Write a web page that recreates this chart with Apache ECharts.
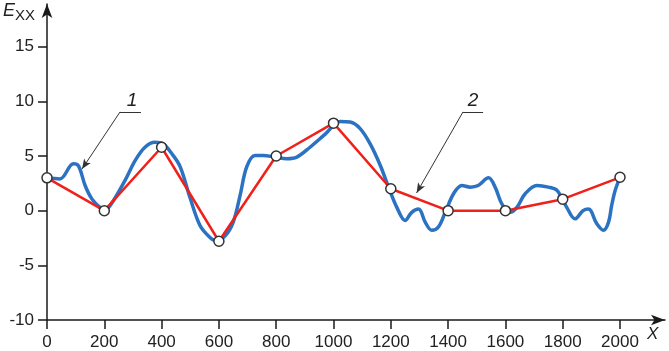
<!DOCTYPE html>
<html>
<head>
<meta charset="utf-8">
<script src="https://cdn.jsdelivr.net/npm/echarts@6/dist/echarts.min.js"></script>
<style>
  html, body { margin: 0; padding: 0; background: #fff; }
  #chart { width: 669px; height: 351px; }
</style>
</head>
<body>
<div id="chart"></div>
<script>
// tick labels
const xTicks = [0, 200, 400, 600, 800, 1000, 1200, 1400, 1600, 1800, 2000]
const yTicks = [-10, -5, 0, 5, 10, 15]

// curve 1 (blue)
const blueX = [0, 45, 92, 110, 133, 156, 185, 200, 220, 272, 308, 342, 377, 406, 436, 465, 499, 534, 569, 590,
  622, 650, 674, 697, 726, 754, 796, 837, 872, 918, 971, 1023, 1058, 1093, 1128, 1163, 1192, 1221, 1250, 1273,
  1297, 1320, 1343, 1366, 1390, 1419, 1448, 1477, 1505, 1541, 1564, 1588, 1617, 1640, 1669, 1710, 1750, 1780,
  1814, 1843, 1871, 1890, 1919, 1942, 1960, 1971, 1983, 2000]
const blueY = [3, 2.9, 4.3, 4.1, 2.3, 1.1, 0.3, 0.1, 0.45, 2.75, 4.6, 5.8, 6.25, 6.1, 5.2, 4.0, 1.2, -1.35, -2.45, -2.75,
  -2.3, -1.05, 1.4, 4.0, 5.05, 5.05, 4.9, 4.75, 4.9, 5.8, 7.0, 8.15, 8.1, 7.5, 6.1, 4.15, 2.15, 0.3, -0.9, -0.15,
  0.15, -1.05, -1.8, -1.5, -0.15, 1.55, 2.3, 2.15, 2.3, 3.0, 2.15, 0.6, -0.15, 0.3, 1.55, 2.3, 2.15, 1.85,
  0.3, -0.75, 0, 0.15, -1.2, -1.8, -1.05, 0.5, 1.85, 3.05]

// curve 2 (red polyline with nodes)
const nodeX = [0, 200, 400, 600, 800, 1000, 1200, 1400, 1600, 1800, 2000]
const nodeY = [3, 0, 5.8, -2.8, 5, 8, 2, 0, 0, 1.05, 3.05]

// callouts: label, label position, shelf start/end, arrow tip (data units)
const calloutNames = ['1', '2']
const calloutLabel = [[297, 10.1], [1487, 10.1]]
const calloutShelf = [[[255, 9.03], [328, 9.03]], [[1452, 9.03], [1522, 9.03]]]
const calloutTip = [[122, 3.8], [1290, 1.62]]

const zip = (a, b) => a.map((v, i) => [v, b[i]])

const axisColor = '#1a1a1a'
const labelStyle = {
  color: '#222',
  fontSize: 17,
  fontFamily: 'Liberation Sans, Arial, sans-serif',
  formatter: v => String(v)
}

const leaderLines = []
calloutNames.forEach((n, i) => {
  leaderLines.push([{ coord: calloutShelf[i][1], symbol: 'none' }, { coord: calloutShelf[i][0], symbol: 'none' }])
  leaderLines.push([{ coord: calloutShelf[i][0], symbol: 'none' }, { coord: calloutTip[i], symbol: 'arrow', symbolSize: [6, 10] }])
})

const option = {
  animation: false,
  backgroundColor: '#fff',
  grid: { left: 47, right: 4, top: 4, bottom: 31 },
  xAxis: {
    type: 'value',
    min: 0,
    max: 2157,
    splitLine: { show: false },
    axisLine: {
      onZero: false,
      symbol: ['none', 'arrow'],
      symbolSize: [8, 14],
      lineStyle: { color: axisColor, width: 1.5 }
    },
    axisTick: { customValues: xTicks, length: 9, lineStyle: { color: axisColor, width: 1.5 } },
    axisLabel: { customValues: xTicks, margin: 14, ...labelStyle }
  },
  yAxis: {
    type: 'value',
    min: -10,
    max: 18.9,
    splitLine: { show: false },
    axisLine: {
      show: true,
      onZero: false,
      symbol: ['none', 'arrow'],
      symbolSize: [8, 14],
      lineStyle: { color: axisColor, width: 1.5 }
    },
    axisTick: { show: true, customValues: yTicks, length: 9, lineStyle: { color: axisColor, width: 1.5 } },
    axisLabel: { customValues: yTicks, margin: 13, ...labelStyle }
  },
  graphic: [
    {
      type: 'text',
      left: 3,
      top: 2,
      style: {
        rich: {
          e: { fontSize: 18, fontStyle: 'italic', fontFamily: 'Liberation Sans, Arial', fill: '#222' },
          s: { fontSize: 15, fontFamily: 'Liberation Sans, Arial', fill: '#222', padding: [9, 0, 0, 0] }
        },
        text: '{e|E}{s|XX}'
      }
    },
    {
      type: 'text',
      left: 647,
      top: 326,
      style: { text: 'X', fontSize: 17, fontStyle: 'italic', fontFamily: 'Liberation Sans, Arial', fill: '#222' }
    }
  ],
  series: [
    {
      name: 'curve 1',
      type: 'line',
      data: zip(blueX, blueY),
      smooth: 0.35,
      symbol: 'none',
      lineStyle: { color: '#2c72c3', width: 3.5 },
      z: 2
    },
    {
      name: 'curve 2',
      type: 'line',
      data: zip(nodeX, nodeY),
      symbol: 'circle',
      symbolSize: 10,
      lineStyle: { color: '#f0201a', width: 2.5 },
      itemStyle: { color: '#fff', borderColor: '#333', borderWidth: 1.5 },
      z: 3
    },
    {
      name: 'callouts',
      type: 'line',
      data: [],
      silent: true,
      markLine: {
        silent: true,
        animation: false,
        label: { show: false },
        lineStyle: { color: '#333', width: 1, type: 'solid' },
        data: leaderLines
      },
      markPoint: {
        silent: true,
        symbol: 'circle',
        symbolSize: 0,
        label: {
          show: true,
          position: 'inside',
          color: '#222',
          fontSize: 19,
          fontStyle: 'italic',
          fontFamily: 'Liberation Sans, Arial',
          formatter: p => p.name
        },
        data: calloutNames.map((n, i) => ({ name: n, coord: calloutLabel[i] }))
      },
      z: 4
    }
  ]
}

const myChart = echarts.init(document.getElementById('chart'))
myChart.setOption(option)
</script>
</body>
</html>
